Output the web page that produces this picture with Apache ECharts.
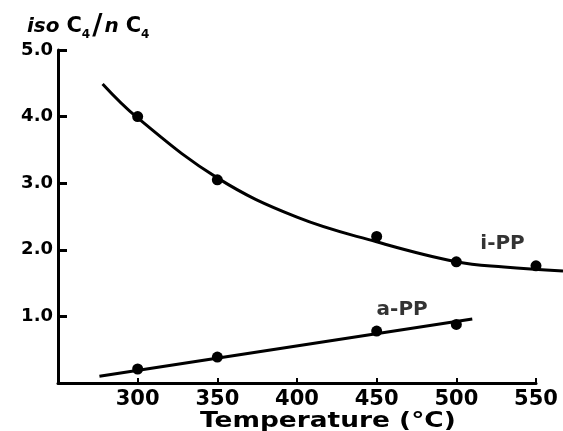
<!DOCTYPE html>
<html>
<head>
<meta charset="utf-8">
<script src="https://cdn.jsdelivr.net/npm/echarts@6/dist/echarts.min.js"></script>
<style>
  html, body { margin: 0; padding: 0; background: #fff; }
  #chart { width: 563px; height: 431px; }
</style>
</head>
<body>
<div id="chart"></div>
<script>
// measured points
var temps = [300, 350, 450, 500, 550]
var isoPts = [4.0, 3.05, 2.2, 1.82, 1.76]
var atacticTemps = [300, 350, 450, 500]
var atacticPts = [0.21, 0.39, 0.78, 0.88]

// fitted curves as drawn (i-PP runs past the end of the axis)
var isoCurveX = [278, 300, 350, 400, 450, 500, 530, 567]
var isoCurveY = [4.49, 3.98, 3.08, 2.49, 2.12, 1.82, 1.74, 1.68]
var atacticLineX = [276, 510]
var atacticLineY = [0.1, 0.96]

// curve labels
var curveNames = ['i-PP', 'a-PP']
var curveNameX = [529, 466]
var curveNameY = [2.09, 1.1]

function zip(xs, ys) {
  return xs.map(function (x, i) { return [x, ys[i]] })
}

var font = 'DejaVu Sans'
var chart = echarts.init(document.getElementById('chart'))

chart.setOption({
  backgroundColor: '#fff',
  animation: false,
  title: {
    text: '{it|iso }{c|C}{sub|4}{sl|/}{it|n }{c|C}{sub|4}',
    left: 22,
    top: 8,
    textStyle: {
      rich: {
        it: { fontFamily: font, fontSize: 20, fontStyle: 'italic', color: '#000' },
        c: { fontFamily: font, fontSize: 21, fontWeight: 'bold', color: '#000' },
        sub: { fontFamily: font, fontSize: 12, fontWeight: 'bold', color: '#000', verticalAlign: 'bottom', padding: [12, 0, 0, 0] },
        sl: { fontFamily: font, fontSize: 28, color: '#000', padding: [0, 2, 0, 2] }
      }
    }
  },
  graphic: [{
    type: 'text',
    left: 200,
    top: 410,
    scaleX: 1.2,
    style: { text: 'Temperature (°C)', fontFamily: font, fontSize: 22, fontWeight: 'bold', fill: '#000' }
  }],
  grid: [
    { left: 58, right: 27, top: 50, bottom: 48 },
    // same scale, wider box so the curve can run to the page edge
    { left: 58, right: 0, top: 50, bottom: 48 }
  ],
  xAxis: [{
    type: 'value',
    min: 250,
    max: 550,
    interval: 50,
    axisLine: { lineStyle: { color: '#000', width: 3 } },
    axisTick: { inside: true, length: 5, lineStyle: { color: '#000', width: 2 } },
    splitLine: { show: false },
    axisLabel: {
      margin: 6,
      fontFamily: font, fontSize: 21, fontWeight: 'bold', color: '#000',
      formatter: function (v) { return v === 250 ? '' : v }
    }
  }, {
    type: 'value', gridIndex: 1, min: 250, max: 567, show: false
  }],
  yAxis: [{
    type: 'value',
    min: 0,
    max: 5,
    interval: 1,
    axisLine: { show: true, lineStyle: { color: '#000', width: 3 } },
    axisTick: { show: true, inside: true, length: 9, lineStyle: { color: '#000', width: 3 } },
    splitLine: { show: false },
    axisLabel: {
      margin: 5,
      fontFamily: font, fontSize: 18, fontWeight: 'bold', color: '#000',
      formatter: function (v) { return v === 0 ? '' : v.toFixed(1) }
    }
  }, {
    type: 'value', gridIndex: 1, min: 0, max: 5, show: false
  }],
  series: [
    {
      type: 'line', xAxisIndex: 1, yAxisIndex: 1,
      smooth: 0.4, symbol: 'none',
      lineStyle: { color: '#000', width: 3 },
      data: zip(isoCurveX, isoCurveY)
    },
    {
      type: 'line', symbol: 'none', clip: false,
      lineStyle: { color: '#000', width: 3 },
      data: zip(atacticLineX, atacticLineY)
    },
    {
      type: 'scatter', symbolSize: 11, clip: false,
      itemStyle: { color: '#000', opacity: 1 },
      data: zip(temps, isoPts)
    },
    {
      type: 'scatter', symbolSize: 11,
      itemStyle: { color: '#000', opacity: 1 },
      data: zip(atacticTemps, atacticPts)
    },
    {
      type: 'scatter', symbolSize: 0, clip: false,
      label: {
        show: true, position: 'inside',
        fontFamily: font, fontSize: 20, fontWeight: 'bold', color: '#000',
        formatter: function (p) { return curveNames[p.dataIndex] }
      },
      data: zip(curveNameX, curveNameY)
    }
  ]
})
</script>
</body>
</html>
